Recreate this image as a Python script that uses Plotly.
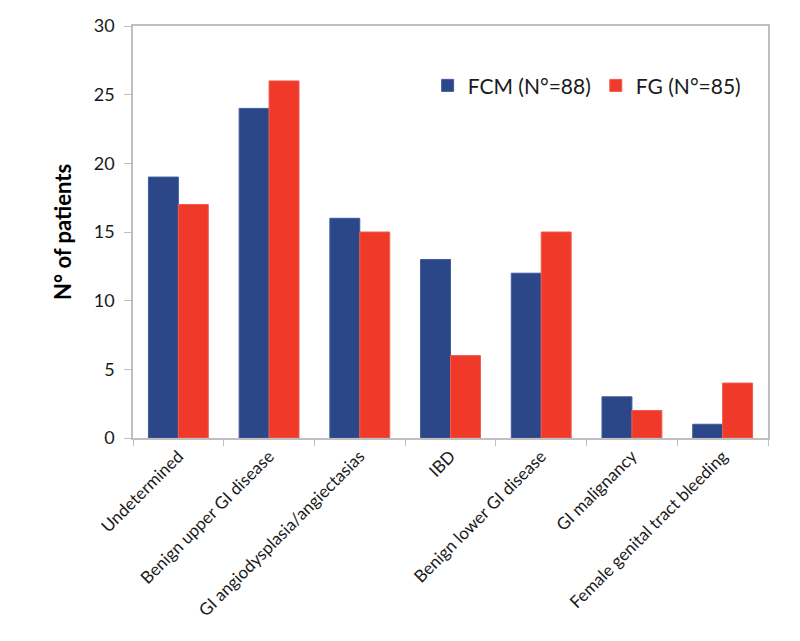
import plotly.graph_objects as go

categories = ["Undetermined", "Benign upper GI disease", "GI angiodysplasia/angiectasias",
              "IBD", "Benign lower GI disease", "GI malignancy", "Female genital tract bleeding"]
fcm_values = [19, 24, 16, 13, 12, 3, 1]
fg_values = [17, 26, 15, 6, 15, 2, 4]
fcm_name = "FCM (N°=88)"
fg_name = "FG (N°=85)"
y_ticks = [0, 5, 10, 15, 20, 25, 30]

FONT = "Lato"
fig = go.Figure()
fig.add_trace(go.Bar(x=categories, y=fcm_values, name=fcm_name,
                     marker=dict(color="#2B4788", line=dict(color="#3F5C9C", width=1))))
fig.add_trace(go.Bar(x=categories, y=fg_values, name=fg_name,
                     marker=dict(color="#EF3A2A", line=dict(color="#F25A4C", width=1))))

fig.update_layout(
    width=800, height=641,
    margin=dict(l=125, r=40, t=18, b=211, autoexpand=False),
    paper_bgcolor="white", plot_bgcolor="white",
    barmode="group", bargap=0.34, bargroupgap=0,
    font=dict(family=FONT, size=17, color="#1a1a1a"),
    showlegend=True,
    legend=dict(orientation="h", x=0.464, y=0.855, xanchor="left", yanchor="middle",
                font=dict(family=FONT, size=21, color="#1a1a1a"),
                bgcolor="rgba(0,0,0,0)", itemwidth=30, tracegroupgap=0),
)
fig.update_xaxes(type="category", tickangle=-45, tickson="boundaries",
                 ticks="outside", ticklen=6, tickcolor="#BFBFBF", automargin=False,
                 showline=True, linecolor="#BFBFBF", linewidth=1.5, mirror=True,
                 showgrid=False, tickfont=dict(family=FONT, size=17, color="#1a1a1a"))
fig.update_yaxes(range=[0, 30], tickvals=y_ticks, ticks="outside", ticklen=7,
                 tickcolor="#BFBFBF", showline=True, linecolor="#BFBFBF", linewidth=1.5,
                 mirror=True, showgrid=False, zeroline=False, automargin=False,
                 ticklabelstandoff=6,
                 tickfont=dict(family=FONT, size=18, color="#1a1a1a"),
                 title=dict(text="<b>N° of patients</b>", font=dict(family=FONT, size=22, color="#000000"),
                            standoff=16))
fig.write_html("out.html")
